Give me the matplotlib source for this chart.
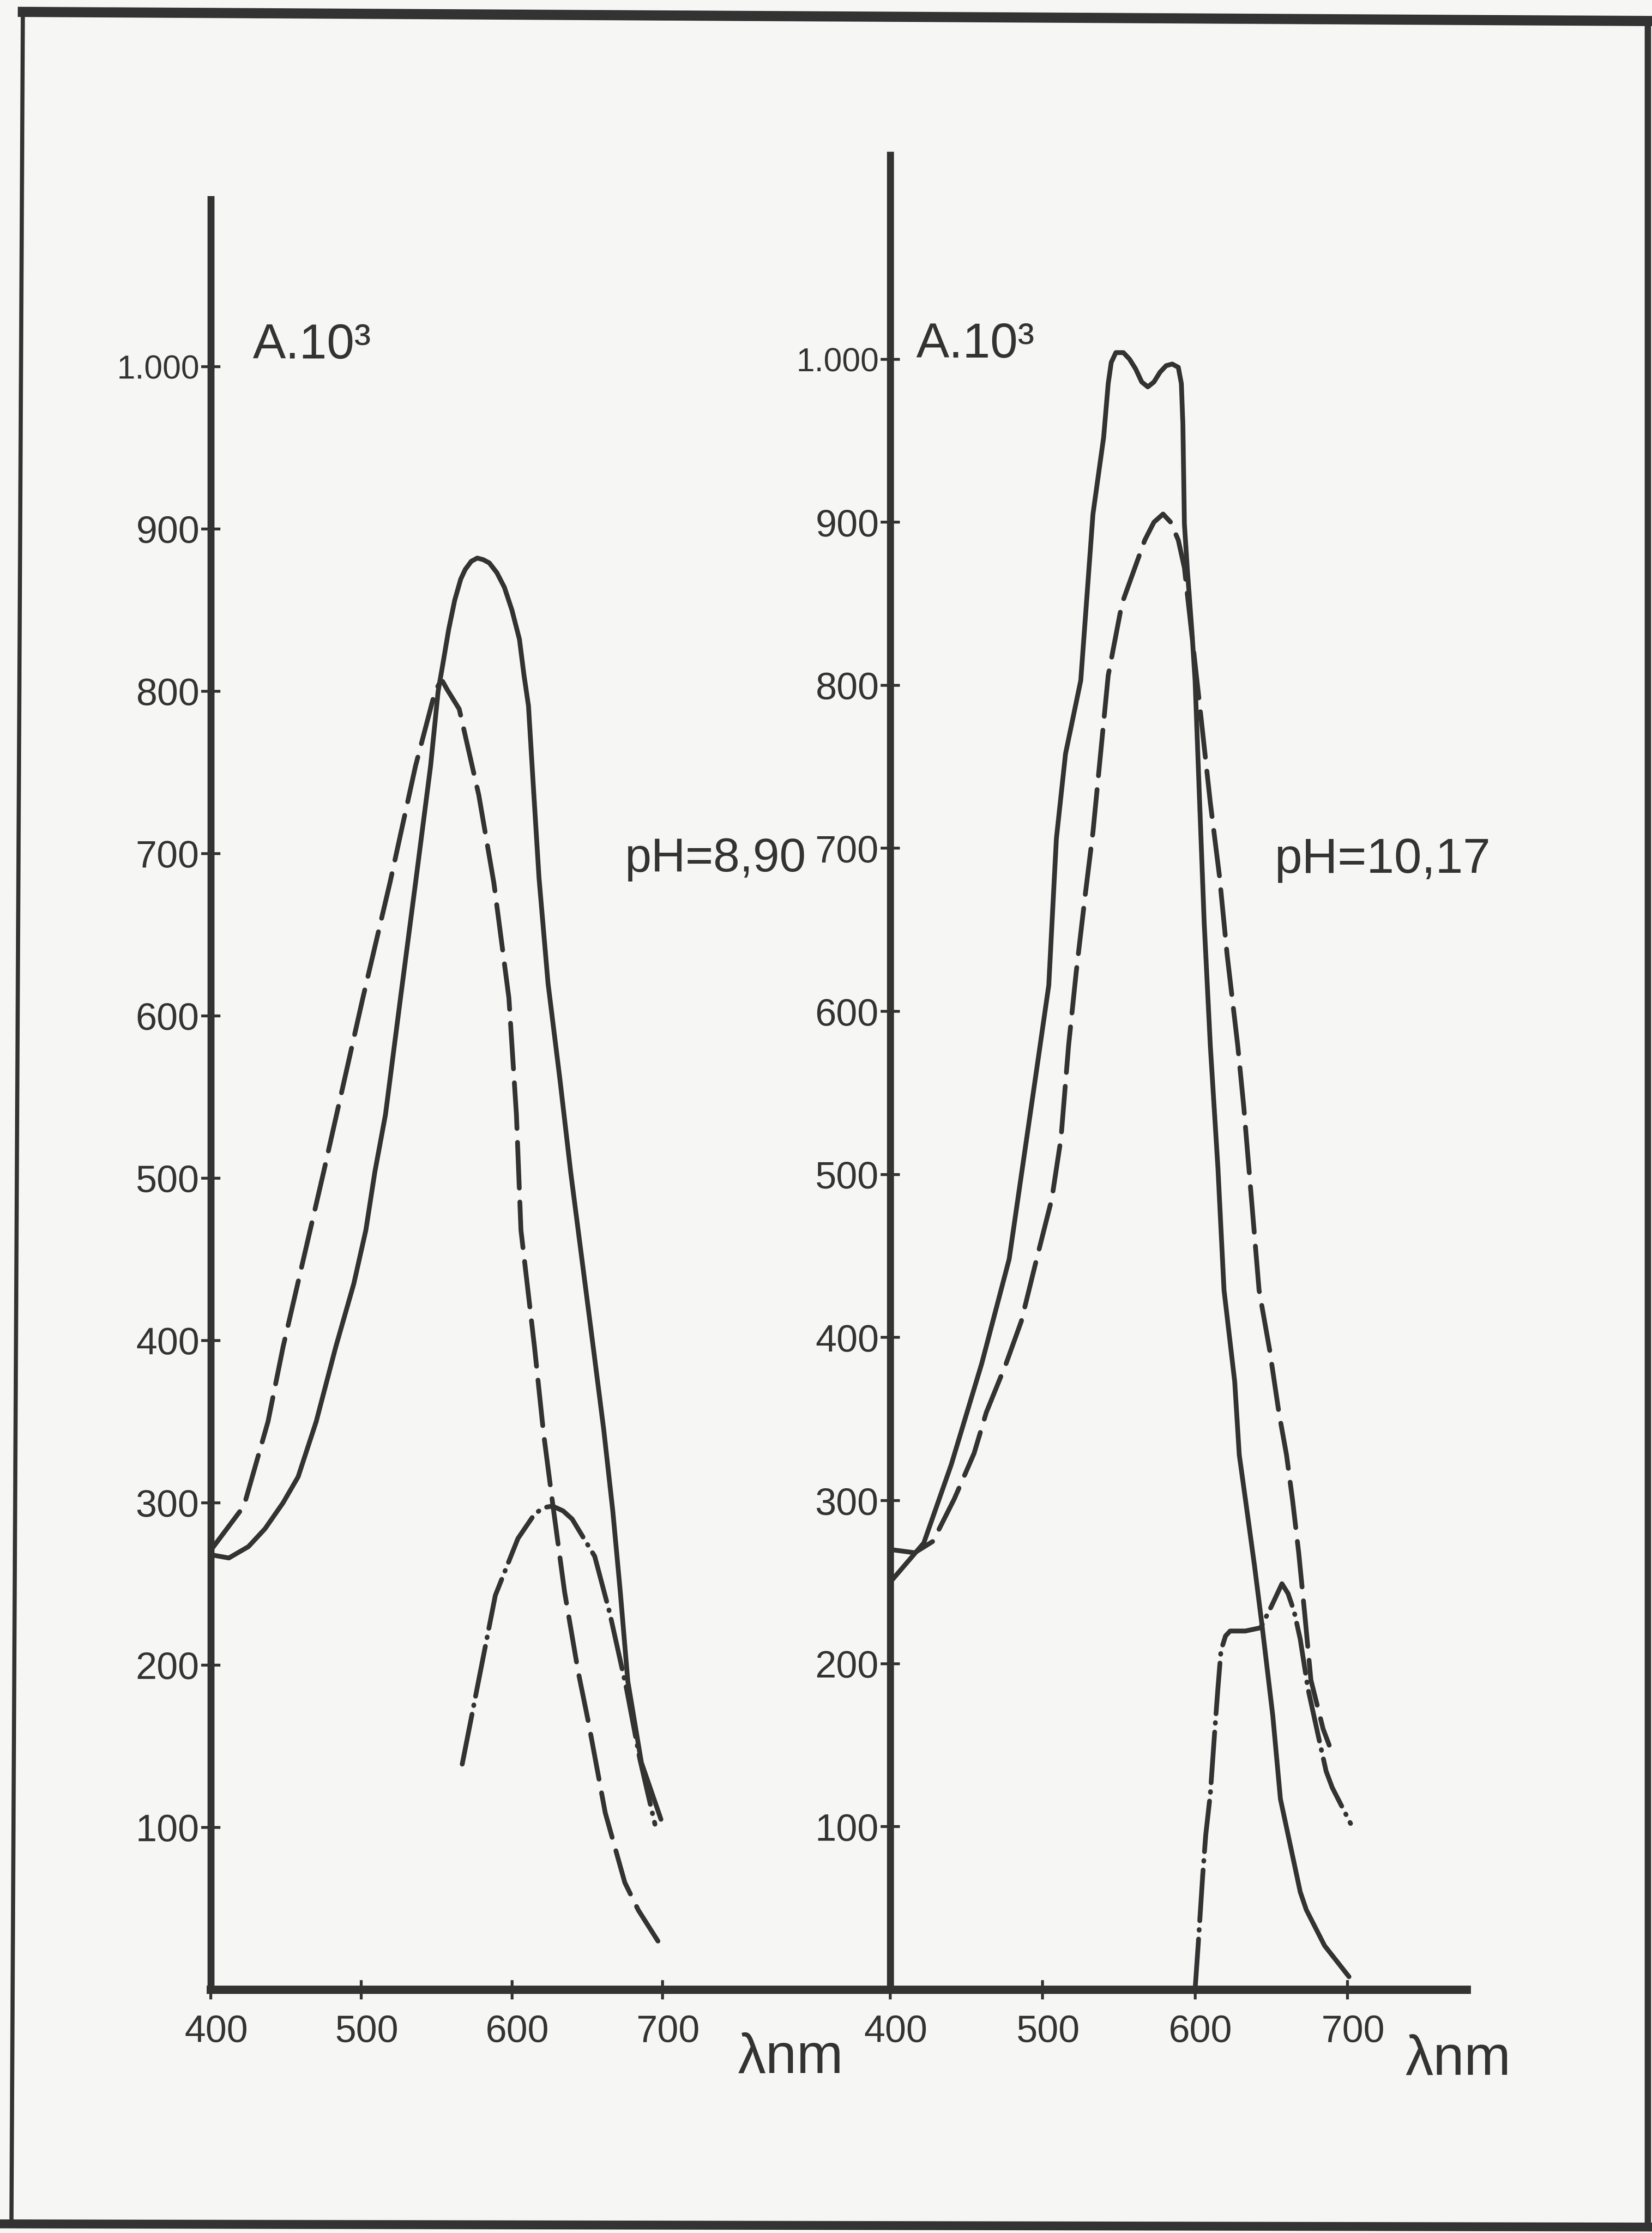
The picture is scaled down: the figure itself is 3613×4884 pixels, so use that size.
import matplotlib.pyplot as plt
import matplotlib.transforms as mtransforms
from matplotlib.lines import Line2D

plt.rcParams['font.family'] = ['Liberation Sans', 'DejaVu Sans']
plt.rcParams['lines.scale_dashes'] = False

ink = '#333333'
paper = '#f6f6f4'

# left panel, pH = 8,90
p1_solid_nm = [400, 412, 425, 436, 448, 458, 470, 483, 495, 503, 509, 516, 526, 536, 546, 551,
               554, 558, 562, 566, 569, 573, 577, 581, 585, 590, 595, 600, 605, 608, 611, 614,
               618, 624, 632, 639, 654, 661, 667, 672, 677, 686, 699]
p1_solid_a = [268, 266, 273, 284, 300, 316, 350, 396, 435, 468, 504, 539, 611, 682, 754, 800,
              816, 838, 856, 869, 875, 880, 882, 881, 879, 873, 864, 850, 832, 810, 791, 745,
              685, 620, 560, 504, 396, 345, 295, 245, 190, 140, 105]
p1_dash_nm = [401, 422, 438, 448, 475, 501, 519, 536, 549, 552, 554, 557, 565, 578, 588, 598,
              603, 606, 615, 621, 627, 635, 644, 651, 662, 675, 684, 697]
p1_dash_a = [272, 298, 350, 396, 504, 611, 682, 754, 800, 805, 806, 801, 789, 736, 682, 611,
             539, 468, 396, 343, 300, 245, 196, 164, 109, 66, 49, 30]
p1_dashdot_nm = [567, 578, 589, 604, 615, 621, 627, 634, 640, 655, 665, 676, 685, 695]
p1_dashdot_a = [139, 191, 243, 278, 293, 297, 298, 295, 290, 267, 232, 186, 142, 102]

# right panel, pH = 10,17
p2_solid_nm = [400, 422, 440, 460, 478, 496, 504, 509, 515, 525, 533, 540, 543, 545, 548, 553,
               557, 561, 565, 569, 573, 577, 581, 585, 589, 591, 592, 593, 595, 598, 600, 603,
               606, 610, 615, 619, 626, 629, 633, 639, 644, 651, 656, 664, 669, 673, 685, 701]
p2_solid_a = [250, 274, 322, 384, 448, 564, 616, 706, 758, 803, 905, 952, 985, 998, 1004, 1004,
              1000, 994, 986, 983, 986, 992, 996, 997, 995, 985, 960, 899, 870, 832, 803, 728,
              654, 579, 504, 429, 373, 328, 301, 260, 223, 168, 117, 82, 60, 49, 27, 8]
p2_dash_nm = [400, 416, 428, 442, 455, 463, 476, 486, 496, 506, 512, 517, 522, 528, 533, 538,
              543, 552, 567, 573, 579, 584, 589, 593, 603, 610, 616, 621, 628, 632, 637, 642,
              649, 655, 660, 664, 668, 672, 676, 684, 688]
p2_dash_a = [270, 268, 275, 301, 329, 354, 384, 410, 448, 485, 522, 579, 624, 672, 710, 758,
             806, 850, 889, 900, 905, 900, 889, 872, 788, 728, 683, 635, 579, 541, 485, 429,
             392, 354, 328, 300, 268, 230, 190, 160, 150]
p2_dashdot_nm = [600, 602, 605, 607, 610, 613, 615, 617, 620, 623, 633, 643, 650, 657, 661, 665,
                 669, 674, 681, 686, 690, 702]
p2_dashdot_a = [0, 27, 70, 95, 120, 160, 185, 208, 217, 220, 220, 222, 235, 249, 243, 232,
                215, 185, 155, 134, 124, 102]

xticks = [400, 500, 600, 700]
xtick_labels = ['400', '500', '600', '700']
yticks = [100, 200, 300, 400, 500, 600, 700, 800, 900, 1000]
ytick_labels = ['100', '200', '300', '400', '500', '600', '700', '800', '900', '1.000']

fig = plt.figure(figsize=(36.13, 48.84), dpi=100, facecolor=paper)
ax1 = fig.add_axes([0.1276, 0.10893, 0.4113, 0.8018])
ax2 = fig.add_axes([0.5389, 0.10893, 0.3490, 0.82166])
shift = mtransforms.ScaledTranslation(0.12, 0, fig.dpi_scale_trans)


def style(ax, xmax, ymax):
    ax.set_facecolor('none')
    ax.set_xlim(400, xmax)
    ax.set_ylim(0, ymax)
    ax.spines['top'].set_visible(False)
    ax.spines['right'].set_visible(False)
    ax.spines['left'].set_linewidth(11)
    ax.spines['bottom'].set_linewidth(13)
    ax.spines['left'].set_color(ink)
    ax.spines['bottom'].set_color(ink)
    ax.set_xticks(xticks, xtick_labels)
    ax.set_yticks(yticks, ytick_labels)
    ax.tick_params(axis='both', direction='inout', length=30, width=4.5,
                   color=ink, labelcolor=ink, labelsize=60)
    ax.tick_params(axis='x', pad=23)
    ax.tick_params(axis='y', pad=3)
    ax.get_yticklabels()[-1].set_fontsize(52)
    for lab in ax.get_xticklabels():
        lab.set_transform(lab.get_transform() + shift)


def curves(ax, s_x, s_y, d_x, d_y, dd_x, dd_y):
    ax.plot(s_x, s_y, color=ink, lw=7.5, solid_capstyle='round', solid_joinstyle='round')
    ax.plot(d_x, d_y, color=ink, lw=7.5, dashes=(72, 22), dash_capstyle='round',
            dash_joinstyle='round')
    ax.plot(dd_x, dd_y, color=ink, lw=7.5, dashes=(80, 14, 1, 14), dash_capstyle='round',
            dash_joinstyle='round')


style(ax1, 851.3, 1103)
style(ax2, 778.3, 1125.2)
curves(ax1, p1_solid_nm, p1_solid_a, p1_dash_nm, p1_dash_a, p1_dashdot_nm, p1_dashdot_a)
curves(ax2, p2_solid_nm, p2_solid_a, p2_dash_nm, p2_dash_a, p2_dashdot_nm, p2_dashdot_a)

ax1.text(428, 1005, 'A.10³', fontsize=78, color=ink, va='baseline', clip_on=False)
ax2.text(417, 1001, 'A.10³', fontsize=78, color=ink, va='baseline', clip_on=False)
ax1.text(675, 689, 'pH=8,90', fontsize=75, color=ink, va='baseline', clip_on=False)
ax2.text(652, 685, 'pH=10,17', fontsize=78, color=ink, va='baseline', clip_on=False)
ax1.text(750, -51, 'λnm', fontsize=88, color=ink, va='baseline', clip_on=False)
ax2.text(738, -52, 'λnm', fontsize=88, color=ink, va='baseline', clip_on=False)

# scanned page frame
W, H = 3613, 4884
frame = [((50, 26), (3613, 46), 16), ((50, 26), (25, 4864), 6.5),
         ((0, 4864), (3613, 4871), 14), ((3604, 46), (3604, 4871), 10)]
for (x0, y0), (x1, y1), lw in frame:
    fig.add_artist(Line2D([x0 / W, x1 / W], [1 - y0 / H, 1 - y1 / H],
                          transform=fig.transFigure, lw=lw, color=ink))

fig.savefig('out.png', dpi=100, facecolor=paper)
